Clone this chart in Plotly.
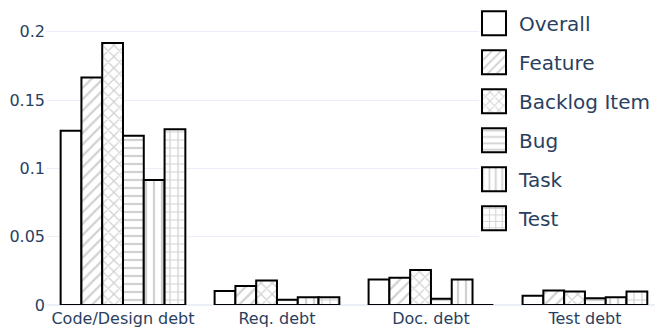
import plotly.graph_objects as go

categories = ["Code/Design debt", "Req. debt", "Doc. debt", "Test debt"]

overall = [0.1275, 0.0102, 0.0187, 0.0068]
feature = [0.1665, 0.0140, 0.0199, 0.0107]
backlog_item = [0.1918, 0.0179, 0.0257, 0.0099]
bug = [0.1239, 0.0039, 0.0046, 0.0049]
task = [0.0916, 0.0056, 0.0187, 0.0056]
test = [0.1287, 0.0056, 0.0, 0.0099]

series = [
    ("Overall", overall, ""),
    ("Feature", feature, "/"),
    ("Backlog Item", backlog_item, "x"),
    ("Bug", bug, "-"),
    ("Task", task, "|"),
    ("Test", test, "+"),
]

fig = go.Figure()
for name, values, shape in series:
    fig.add_trace(go.Bar(
        name=name,
        x=categories,
        y=values,
        legendgroup=name,
        marker=dict(
            color="white",
            line=dict(color="black", width=2),
            pattern=dict(shape=shape, fgcolor="#a4a4a4", bgcolor="white",
                         size=8, solidity=0.28),
        ),
    ))

fig.update_layout(
    template="plotly_white",
    width=655,
    height=328,
    margin=dict(l=46, r=0, t=0, b=21),
    barmode="group",
    bargap=0.19,
    bargroupgap=0,
    font=dict(family="DejaVu Sans", size=16, color="#2a3f5f"),
    legend=dict(
        x=1, xanchor="right", y=0.988, yanchor="top",
        font=dict(size=20),
        tracegroupgap=10,
        bgcolor="white",
    ),
    xaxis=dict(range=[-0.5, 3.455], ticklabelstandoff=2),
    yaxis=dict(range=[0, 0.2233], tickvals=[0, 0.05, 0.1, 0.15, 0.2],
               ticktext=["0", "0.05", "0.1", "0.15", "0.2"]),
)

# Enlarge the legend swatches to 24px squares.
swatch_js = """
var gd = document.getElementById('{plot_id}');
function bigSwatches() {
  gd.querySelectorAll('.legend .legendpoints path').forEach(function (p) {
    p.setAttribute('d', 'M7,12H-17V-12H7Z');
  });
}
bigSwatches();
gd.on('plotly_afterplot', bigSwatches);
"""

fig.write_html("out.html", post_script=swatch_js)
